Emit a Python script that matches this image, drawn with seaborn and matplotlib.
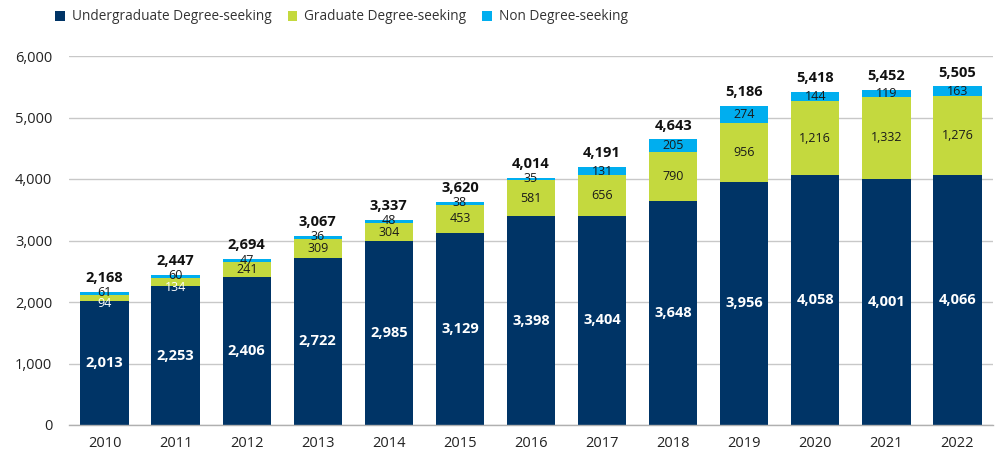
import matplotlib
matplotlib.use("Agg")
import matplotlib.pyplot as plt
from matplotlib.patches import Patch
import seaborn as sns
import pandas as pd

years = ["2010", "2011", "2012", "2013", "2014", "2015", "2016", "2017", "2018", "2019", "2020", "2021", "2022"]
undergrad = [2013, 2253, 2406, 2722, 2985, 3129, 3398, 3404, 3648, 3956, 4058, 4001, 4066]
graduate = [94, 134, 241, 309, 304, 453, 581, 656, 790, 956, 1216, 1332, 1276]
nondegree = [61, 60, 47, 36, 48, 38, 35, 131, 205, 274, 144, 119, 163]
totals = [2168, 2447, 2694, 3067, 3337, 3620, 4014, 4191, 4643, 5186, 5418, 5452, 5505]
series_names = ["Undergraduate Degree-seeking", "Graduate Degree-seeking", "Non Degree-seeking"]

C_UG = "#003466"
C_GR = "#c4d93e"
C_ND = "#00aeef"
TXT = "#1a1a1a"

sns.set_theme(style="white")
plt.rcParams["font.family"] = ["Open Sans", "DejaVu Sans"]

df = pd.DataFrame({"year": years, "ug": undergrad, "gr": graduate, "nd": nondegree, "tot": totals})
df["ug_gr"] = df["ug"] + df["gr"]
df["all"] = df["ug_gr"] + df["nd"]

fig = plt.figure(figsize=(10.01, 4.54), dpi=100)
ax = fig.add_axes([69 / 1001, 1 - 425 / 454, (993 - 69) / 1001, (425 - 56) / 454])

w = 0.68
sns.barplot(data=df, x="year", y="all", color=C_ND, width=w, ax=ax, saturation=1, order=years, legend=False)
sns.barplot(data=df, x="year", y="ug_gr", color=C_GR, width=w, ax=ax, saturation=1, order=years, legend=False)
sns.barplot(data=df, x="year", y="ug", color=C_UG, width=w, ax=ax, saturation=1, order=years, legend=False)
for p in ax.patches:
    p.set_linewidth(0)

ax.set_xlim(-0.5, 12.5)
ax.set_ylim(0, 6000)
ax.set_yticks(range(0, 6001, 1000))
ax.set_yticklabels([f"{v:,}" for v in range(0, 6001, 1000)])
ax.grid(axis="y", color="#c8c8c8", linewidth=1)
ax.set_axisbelow(True)
for s in ["left", "right", "top"]:
    ax.spines[s].set_visible(False)
ax.spines["bottom"].set_color("#b0b0b0")
ax.spines["bottom"].set_linewidth(1)
ax.tick_params(axis="y", length=0, pad=12, labelsize=10.5, labelcolor="#222222")
ax.tick_params(axis="x", length=0, pad=8, labelsize=10.5, labelcolor="#222222")
ax.set_xlabel("")
ax.set_ylabel("")

for i in range(len(years)):
    ug, gr, nd, tot = undergrad[i], graduate[i], nondegree[i], totals[i]
    ax.text(i, ug / 2, f"{ug:,}", ha="center", va="center", color="white", fontsize=10.5, fontweight="bold")
    small_gr = gr < 200
    gcol = "white" if small_gr else TXT
    ax.text(i, ug + gr / 2 - (90 if small_gr else 0), f"{gr:,}", ha="center", va="center", color=gcol, fontsize=9)
    ax.text(i, ug + gr + nd / 2 + (10 if nd < 100 else 0), f"{nd:,}", ha="center", va="center", color=TXT, fontsize=9)
    ax.annotate(f"{tot:,}", xy=(i, ug + gr + nd), xytext=(0, 10), textcoords="offset points",
                ha="center", va="center", color="#111111", fontsize=10.5, fontweight="bold")

handles = [Patch(facecolor=c, edgecolor="none") for c in (C_UG, C_GR, C_ND)]
fig.legend(handles, series_names, loc="center left",
           bbox_to_anchor=(43 / 1001, 1 - 17 / 454), ncol=3, frameon=False, fontsize=9.8,
           handlelength=0.7, handleheight=0.7, handletextpad=0.5, columnspacing=1.2, labelcolor="#333333")

fig.savefig("out.png", dpi=100)
